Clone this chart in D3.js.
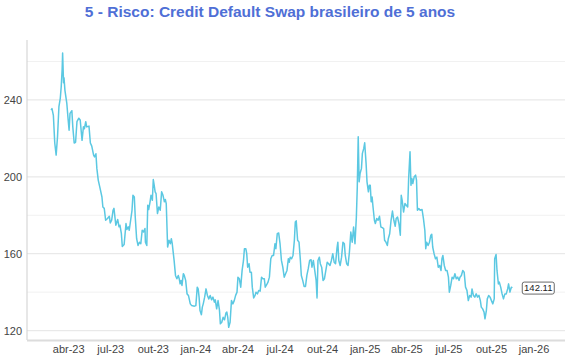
<!DOCTYPE html>
<html>
<head>
<meta charset="utf-8">
<script src="https://cdn.jsdelivr.net/npm/d3@7"></script>
<style>
  body { margin: 0; background: #fff; font-family: "Liberation Sans", Arial, sans-serif; }
</style>
</head>
<body>
<div id="chart"></div>
<script>
// CDS Brasil 5 anos, observações
const TITLE = '5 - Risco: Credit Default Swap brasileiro de 5 anos';

const dates = [
  '2023-02-23','2023-02-25','2023-02-28','2023-03-03','2023-03-06','2023-03-09','2023-03-12','2023-03-15','2023-03-17','2023-03-19',
  '2023-03-20','2023-03-22','2023-03-23','2023-03-25','2023-03-29','2023-04-01','2023-04-03','2023-04-05','2023-04-09','2023-04-11',
  '2023-04-14','2023-04-17','2023-04-20','2023-04-24','2023-04-27','2023-05-01','2023-05-04','2023-05-06','2023-05-09','2023-05-11',
  '2023-05-16','2023-05-19','2023-05-22','2023-05-26','2023-05-28','2023-05-31','2023-06-02','2023-06-05','2023-06-09','2023-06-13',
  '2023-06-15','2023-06-18','2023-06-21','2023-06-25','2023-06-29','2023-07-01','2023-07-04','2023-07-07','2023-07-09','2023-07-13',
  '2023-07-17','2023-07-20','2023-07-22','2023-07-25','2023-07-27','2023-07-31','2023-08-04','2023-08-06','2023-08-09','2023-08-11',
  '2023-08-17','2023-08-19','2023-08-22','2023-08-24','2023-08-27','2023-08-30','2023-09-02','2023-09-05','2023-09-08','2023-09-11',
  '2023-09-14','2023-09-15','2023-09-18','2023-09-20','2023-09-22','2023-09-25','2023-09-27','2023-09-30','2023-10-02','2023-10-04',
  '2023-10-06','2023-10-08','2023-10-11','2023-10-14','2023-10-17','2023-10-20','2023-10-23','2023-10-26','2023-10-28','2023-10-30',
  '2023-11-02','2023-11-05','2023-11-08','2023-11-10','2023-11-12','2023-11-16','2023-11-19','2023-11-22','2023-11-25','2023-11-27',
  '2023-11-29','2023-12-01','2023-12-03','2023-12-06','2023-12-08','2023-12-11','2023-12-14','2023-12-17','2023-12-21','2023-12-24',
  '2023-12-30','2024-01-02','2024-01-05','2024-01-07','2024-01-09','2024-01-11','2024-01-14','2024-01-16','2024-01-18','2024-01-21',
  '2024-01-24','2024-01-27','2024-01-30','2024-02-02','2024-02-05','2024-02-08','2024-02-11','2024-02-13','2024-02-16','2024-02-19',
  '2024-02-22','2024-02-24','2024-02-27','2024-03-01','2024-03-04','2024-03-07','2024-03-09','2024-03-11','2024-03-13','2024-03-16',
  '2024-03-19','2024-03-22','2024-03-25','2024-03-28','2024-03-31','2024-04-02','2024-04-05','2024-04-08','2024-04-11','2024-04-14',
  '2024-04-16','2024-04-19','2024-04-21','2024-04-23','2024-04-26','2024-04-28','2024-05-01','2024-05-03','2024-05-06','2024-05-09',
  '2024-05-11','2024-05-14','2024-05-17','2024-05-20','2024-05-23','2024-05-26','2024-05-29','2024-05-31','2024-06-04','2024-06-06',
  '2024-06-09','2024-06-12','2024-06-15','2024-06-18','2024-06-21','2024-06-23','2024-06-26','2024-06-29','2024-07-02','2024-07-05',
  '2024-07-08','2024-07-11','2024-07-14','2024-07-17','2024-07-20','2024-07-22','2024-07-24','2024-07-27','2024-07-30','2024-08-02',
  '2024-08-04','2024-08-06','2024-08-09','2024-08-12','2024-08-15','2024-08-17','2024-08-20','2024-08-23','2024-08-26','2024-08-29',
  '2024-09-01','2024-09-04','2024-09-07','2024-09-09','2024-09-12','2024-09-15','2024-09-18','2024-09-20','2024-09-22','2024-09-25',
  '2024-09-27','2024-09-30','2024-10-03','2024-10-06','2024-10-09','2024-10-12','2024-10-15','2024-10-18',
  '2024-10-21','2024-10-24','2024-10-27','2024-10-30','2024-11-02','2024-11-04','2024-11-06','2024-11-09','2024-11-12','2024-11-15',
  '2024-11-18','2024-11-20','2024-11-23','2024-11-26','2024-11-29','2024-12-02','2024-12-05','2024-12-08','2024-12-11','2024-12-14',
  '2024-12-16','2024-12-18','2024-12-20','2024-12-22','2024-12-25','2024-12-27','2024-12-30','2025-01-01','2025-01-04','2025-01-06',
  '2025-01-09','2025-01-11','2025-01-13','2025-01-15','2025-01-17','2025-01-19','2025-01-22','2025-01-24','2025-01-27','2025-01-30',
  '2025-02-02','2025-02-05','2025-02-08','2025-02-11','2025-02-13','2025-02-16','2025-02-19','2025-02-21','2025-02-24','2025-02-27',
  '2025-03-02','2025-03-05','2025-03-08','2025-03-10','2025-03-13','2025-03-16','2025-03-19','2025-03-21','2025-03-23','2025-03-26',
  '2025-03-29','2025-04-01','2025-04-04','2025-04-06','2025-04-09','2025-04-11','2025-04-13','2025-04-15','2025-04-18','2025-04-21',
  '2025-04-23','2025-04-25','2025-04-28','2025-05-01',
  '2025-05-05','2025-05-08','2025-05-11','2025-05-13','2025-05-15','2025-05-18','2025-05-21','2025-05-24','2025-05-26','2025-05-28',
  '2025-05-31','2025-06-03','2025-06-06','2025-06-09','2025-06-12','2025-06-15','2025-06-17','2025-06-19','2025-06-22','2025-06-25',
  '2025-06-28','2025-07-01','2025-07-03','2025-07-06','2025-07-09','2025-07-12','2025-07-15','2025-07-18','2025-07-21','2025-07-24',
  '2025-07-26','2025-07-29','2025-08-01','2025-08-04','2025-08-07','2025-08-10','2025-08-13','2025-08-16','2025-08-19','2025-08-21',
  '2025-08-24','2025-08-27','2025-08-30','2025-09-02','2025-09-05','2025-09-08','2025-09-10','2025-09-13','2025-09-16','2025-09-18',
  '2025-09-21','2025-09-23','2025-09-26','2025-09-29','2025-10-02','2025-10-05','2025-10-08','2025-10-09','2025-10-12','2025-10-14',
  '2025-10-17','2025-10-19','2025-10-22','2025-10-25','2025-10-28','2025-10-31','2025-11-03','2025-11-06','2025-11-08','2025-11-11',
  '2025-11-14','2025-11-16'
];

const cds = [
  234.8, 235.5, 232, 217.6, 211.3, 221, 236.5, 241, 247, 256,
  264.4, 249, 251.5, 245, 238.4, 229.6, 224.3, 233, 234.4, 226,
  217.6, 218, 228.7, 230.5, 229.6, 219, 226, 225, 228.7, 226,
  226.4, 217.6, 216, 211.3, 210.4, 212, 204.4, 198.3, 194, 189.5,
  184.3, 183.6, 177.4, 178.3, 179.5, 176, 177.4, 182.6, 183.6, 174.8,
  177.8, 174, 174.8, 170.4, 163.8, 164.8, 175.7, 172.6, 174, 172.2,
  182.6, 190.4, 189.5, 179.1, 167.8, 164.3, 166, 165.2, 172.2, 171.3,
  173.1, 166, 164.3, 185.2, 183, 187, 190.4, 187.8, 198.6, 195.6,
  192.2, 191.3, 180.9, 184.3, 182.6, 192.2, 190.4, 187, 188.2, 186.1,
  163.5, 167, 165.2, 167.8, 165.2, 156.5, 148.7, 147, 148.7, 147,
  144.3, 146.1, 143.5, 149.6, 148.7, 146.1, 139.1, 138.3, 133.9, 133,
  132.7, 133, 142.6, 141.7, 137.4, 130.4, 128.3, 132.2, 133.9, 137.4,
  141.7, 138.3, 136.5, 138.3, 136, 137.4, 134.8, 136, 131.3, 135.6,
  130.8, 123.5, 124.3, 126.9, 125.6, 129.1, 129.6, 126.9, 121.7, 124.3,
  135.6, 133.9, 135.6, 138.3, 140, 147.8, 147, 142.6, 151.3, 156.5,
  162.6, 162.6, 160, 153, 154.8, 150.4, 150.4, 142.6, 137, 138.3,
  140, 139.1, 140.9, 140.5, 147.8, 147, 147, 142.6, 144.3, 145.2,
  147.8, 157.4, 159.1, 159.1, 165.2, 162.6, 170.4, 170.8, 165.2, 156.5,
  153, 147.8, 149.6, 151.3, 157.4, 155.6, 158.2, 157.4, 159.1, 167,
  176.5, 177.1, 167, 166, 156.5, 148.7, 146.1, 143, 143, 148.7,
  152.2, 156.5, 156.9, 153, 156.5, 151.3, 146.1, 137, 156.5, 158.2,
  154.8, 153, 146.1, 147, 151.3, 155.6, 154.8, 153.9,
  156.5, 160, 155.6, 154.8, 162.6, 166, 156.5, 153.9, 158.2, 166,
  165.2, 159.1, 154.8, 153.9, 160.9, 171.3, 166, 173.9, 165.2, 179.1,
  194.8, 220.8, 197.4, 201.7, 204.4, 212.2, 214.8, 217.7, 207, 197.4,
  192.2, 195.6, 195.6, 187, 189.5, 184.3, 177.4, 175.7, 178.3, 177.4,
  179.5, 173.9, 173.6, 173.1, 167, 166, 164.3, 167.8, 170.4, 177.4,
  182.2, 177.4, 174.3, 178.3, 179.1, 175.7, 169.6, 190.4, 187.8, 181.7,
  186.1, 185.2, 184.3, 199.1, 213, 195.6, 199.1, 196.5, 200, 200.9,
  198.3, 182.6, 183.5, 182.6,
  183, 178.3, 172.2, 162.6, 166, 164.3, 166, 169.6, 170.1, 163.5,
  160, 157.4, 158.2, 153, 153.9, 151.3, 157.4, 159.1, 153.9, 151.3,
  151.3, 147.8, 140, 143.5, 147.8, 147, 149.6, 147, 147.8, 146.1,
  147.8, 148.7, 151.3, 150.4, 142.6, 140.9, 135.6, 138.3, 137.4, 141.7,
  138.3, 137.4, 139.1, 137.4, 138.3, 135.6, 132.2, 131.3, 129.6, 126.1,
  130.4, 136.5, 138.3, 137.4, 135.6, 133.9, 136.5, 157.4, 159.6, 151.3,
  144.3, 145.2, 142.6, 139.1, 136.5, 139.1, 139.1, 141.7, 144.3, 140,
  142.6, 142.11
];

const yMajorTicks = [120, 160, 200, 240];
const yMinorTicks = [140, 180, 220, 260];
const xTickDates = ['2023-04-01', '2023-07-01', '2023-10-01', '2024-01-01', '2024-04-01', '2024-07-01',
                    '2024-10-01', '2025-01-01', '2025-04-01', '2025-07-01', '2025-10-01', '2026-01-01'];
const xTickLabels = ['abr-23', 'jul-23', 'out-23', 'jan-24', 'abr-24', 'jul-24',
                     'out-24', 'jan-25', 'abr-25', 'jul-25', 'out-25', 'jan-26'];
const xRange = ['2023-01-02', '2026-03-10'];
const yRange = [115.1, 271.2];

const WIDTH = 570;
const HEIGHT = 360;
const MARGIN = { top: 40, right: 5, bottom: 20, left: 27 };
const LINE_COLOR = '#5bc8e2';
const TITLE_COLOR = '#4f6fd6';

const parse = d3.timeParse('%Y-%m-%d');
const n = Math.min(dates.length, cds.length);
const series = d3.range(n).map(i => ({ date: parse(dates[i]), value: cds[i] }));

const innerW = WIDTH - MARGIN.left - MARGIN.right;
const innerH = HEIGHT - MARGIN.top - MARGIN.bottom;

const svg = d3.select('#chart')
  .append('svg')
  .attr('width', WIDTH)
  .attr('height', HEIGHT)
  .style('font-family', '"Liberation Sans", Arial, sans-serif');

svg.append('text')
  .attr('x', 270)
  .attr('y', 17)
  .attr('text-anchor', 'middle')
  .style('font-size', '15.5px')
  .style('font-weight', 'bold')
  .style('fill', TITLE_COLOR)
  .text(TITLE);

const g = svg.append('g')
  .attr('transform', `translate(${MARGIN.left},${MARGIN.top})`);

const x = d3.scaleTime()
  .domain(xRange.map(parse))
  .range([0, innerW]);

const y = d3.scaleLinear()
  .domain(yRange)
  .range([innerH, 0]);

// grid
g.selectAll('.grid-minor')
  .data(yMinorTicks)
  .join('line')
  .attr('class', 'grid-minor')
  .attr('x1', 0).attr('x2', innerW)
  .attr('y1', d => y(d)).attr('y2', d => y(d))
  .attr('stroke', '#f1f1f1')
  .attr('stroke-width', 1);

g.selectAll('.grid-major')
  .data(yMajorTicks)
  .join('line')
  .attr('class', 'grid-major')
  .attr('x1', 0).attr('x2', innerW)
  .attr('y1', d => y(d)).attr('y2', d => y(d))
  .attr('stroke', '#e9e9e9')
  .attr('stroke-width', 1.3);

// axes
const yAxis = g.append('g')
  .call(d3.axisLeft(y).tickValues(yMajorTicks).tickSize(0).tickPadding(5));
yAxis.select('.domain').remove();
yAxis.selectAll('text').style('font-size', '11px').style('fill', '#444');

const xAxis = g.append('g')
  .attr('transform', `translate(0,${innerH})`)
  .call(d3.axisBottom(x)
    .tickValues(xTickDates.map(parse))
    .tickSize(0)
    .tickPadding(5)
    .tickFormat((d, i) => xTickLabels[i]));
xAxis.select('.domain').remove();
xAxis.selectAll('text').style('font-size', '11px').style('fill', '#444');

g.append('line')
  .attr('x1', 0).attr('x2', 0)
  .attr('y1', 0).attr('y2', innerH)
  .attr('stroke', '#cfcfcf')
  .attr('stroke-width', 1);

g.append('line')
  .attr('x1', 0).attr('x2', innerW)
  .attr('y1', innerH + 0.5).attr('y2', innerH + 0.5)
  .attr('stroke', '#dcdcdc')
  .attr('stroke-width', 2);

// series line
const line = d3.line()
  .x(d => x(d.date))
  .y(d => y(d.value));

g.append('path')
  .datum(series)
  .attr('fill', 'none')
  .attr('stroke', LINE_COLOR)
  .attr('stroke-width', 1.5)
  .attr('stroke-linejoin', 'round')
  .attr('d', line);

// last value label
const last = series[series.length - 1];
const lbl = g.append('g')
  .attr('transform', `translate(${x(last.date) + 10},${y(last.value)})`);

lbl.append('rect')
  .attr('x', 0).attr('y', -6)
  .attr('width', 32).attr('height', 12)
  .attr('rx', 2)
  .attr('fill', '#fff')
  .attr('stroke', '#444')
  .attr('stroke-width', 0.8);

lbl.append('text')
  .attr('x', 16).attr('y', 0)
  .attr('dy', '0.35em')
  .attr('text-anchor', 'middle')
  .style('font-size', '9.5px')
  .style('fill', '#222')
  .text(d3.format('.2f')(last.value));
</script>
</body>
</html>
